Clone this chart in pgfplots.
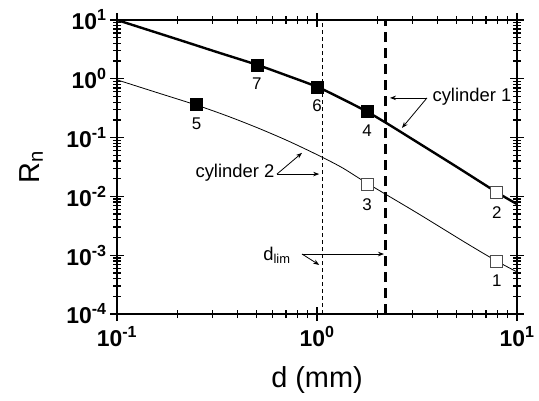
\documentclass[border=0pt]{standalone}
\usepackage{fontspec}
\setmainfont{Liberation Sans}
\usepackage{pgfplots}
\pgfplotsset{compat=1.18}
\usetikzlibrary{arrows.meta}

\begin{document}
\begin{tikzpicture}
\begin{axis}[
    scale only axis,
    width=400bp, height=294bp,
    xmode=log, ymode=log,
    xmin=0.1, xmax=10, ymin=1e-4, ymax=10,
    axis line style={line width=2bp},
    tick style={black, line width=1.3bp},
    major tick length=14bp, minor tick length=8bp,
    tick align=center,
    xtick={0.1,1,10},
    xticklabels={10\textsuperscript{-1},10\textsuperscript{0},10\textsuperscript{1}},
    ytick={1e-4,1e-3,1e-2,1e-1,1,10},
    yticklabels={10\textsuperscript{-4},10\textsuperscript{-3},10\textsuperscript{-2},10\textsuperscript{-1},10\textsuperscript{0},10\textsuperscript{1}},
    ticklabel style={font=\fontsize{23}{27}\selectfont\bfseries},
    xticklabel style={yshift=-2bp},
    xlabel={d (mm)}, ylabel={R\textsubscript{n}},
    label style={font=\fontsize{29}{34}\selectfont},
    xlabel style={at={(axis description cs:0.5,-0.225)}, anchor=center},
    ylabel style={at={(axis description cs:-0.215,0.5)}, anchor=center},
]
% cylinder 1 (thick)
\addplot[black, line width=2.4bp, smooth, tension=0.5] coordinates {
    (0.1,10) (0.2,4.71) (0.316,2.85) (0.501,1.73) (0.708,1.135) (1.0,0.731)
    (1.334,0.457) (1.778,0.276) (2.24,0.174) (3.16,0.0841) (5.01,0.0316) (7.94,0.0117) (10,0.0074)
};
% cylinder 2 (thin)
\addplot[black, line width=0.8bp, smooth, tension=0.5] coordinates {
    (0.1,0.96) (0.158,0.585) (0.251,0.355) (0.355,0.234) (0.501,0.148) (0.708,0.0895)
    (1.0,0.0513) (1.334,0.0309) (1.778,0.0168) (3.16,0.00525) (5.62,0.00158) (7.94,0.00079) (10,0.00052)
};
% filled markers
\addplot[only marks, mark=square*, mark size=6bp, mark options={fill=black, draw=black}] coordinates {
    (0.25,0.363) (0.5,1.73) (1.0,0.73) (1.78,0.276)
};
% open markers
\addplot[only marks, mark=square*, mark size=6bp, mark options={fill=white, draw=black!70, line width=1bp}] coordinates {
    (1.78,0.016) (7.94,0.0117) (7.94,0.00079)
};
% d_lim lines
\draw[black, line width=0.8bp, dash pattern=on 4bp off 3bp] (axis cs:1.07,1e-4) -- (axis cs:1.07,10);
\draw[black, line width=2.2bp, dash pattern=on 10bp off 6bp] (axis cs:2.2,1e-4) -- (axis cs:2.2,10);
% point labels
\begin{scope}[font=\fontsize{17}{20}\selectfont]
\node at ([yshift=-19bp]axis cs:0.25,0.363) {5};
\node at ([yshift=-19bp]axis cs:0.5,1.73) {7};
\node at ([yshift=-19bp]axis cs:1.0,0.73) {6};
\node at ([yshift=-19bp]axis cs:1.78,0.276) {4};
\node at ([yshift=-20bp]axis cs:1.78,0.016) {3};
\node at ([yshift=-20bp]axis cs:7.94,0.0117) {2};
\node at ([yshift=-19bp]axis cs:7.94,0.00079) {1};
\end{scope}
% annotations
\begin{scope}[font=\fontsize{18.5}{22}\selectfont, line width=0.8bp, -{Stealth[length=6bp,width=4.5bp]}]
\node at (rel axis cs:0.8875,0.738) {cylinder 1};
\draw (rel axis cs:0.775,0.735) -- (rel axis cs:0.6825,0.735);
\draw (rel axis cs:0.775,0.735) -- (rel axis cs:0.7125,0.633);
\node at (rel axis cs:0.295,0.48) {cylinder 2};
\draw (rel axis cs:0.4,0.476) -- (rel axis cs:0.4625,0.548);
\draw (rel axis cs:0.4,0.476) -- (rel axis cs:0.5055,0.476);
\node at (rel axis cs:0.4,0.2) {d\textsubscript{lim}};
\draw (rel axis cs:0.4625,0.204) -- (rel axis cs:0.6675,0.204);
\draw (rel axis cs:0.4625,0.204) -- (rel axis cs:0.5055,0.167);
\end{scope}
\coordinate (bl) at (rel axis cs:0,0);
\coordinate (tr) at (rel axis cs:1,1);
\end{axis}
\pgfresetboundingbox
\path[use as bounding box] ([shift={(-117bp,-87bp)}]bl) rectangle ([shift={(22bp,20bp)}]tr);
\end{tikzpicture}
\end{document}
